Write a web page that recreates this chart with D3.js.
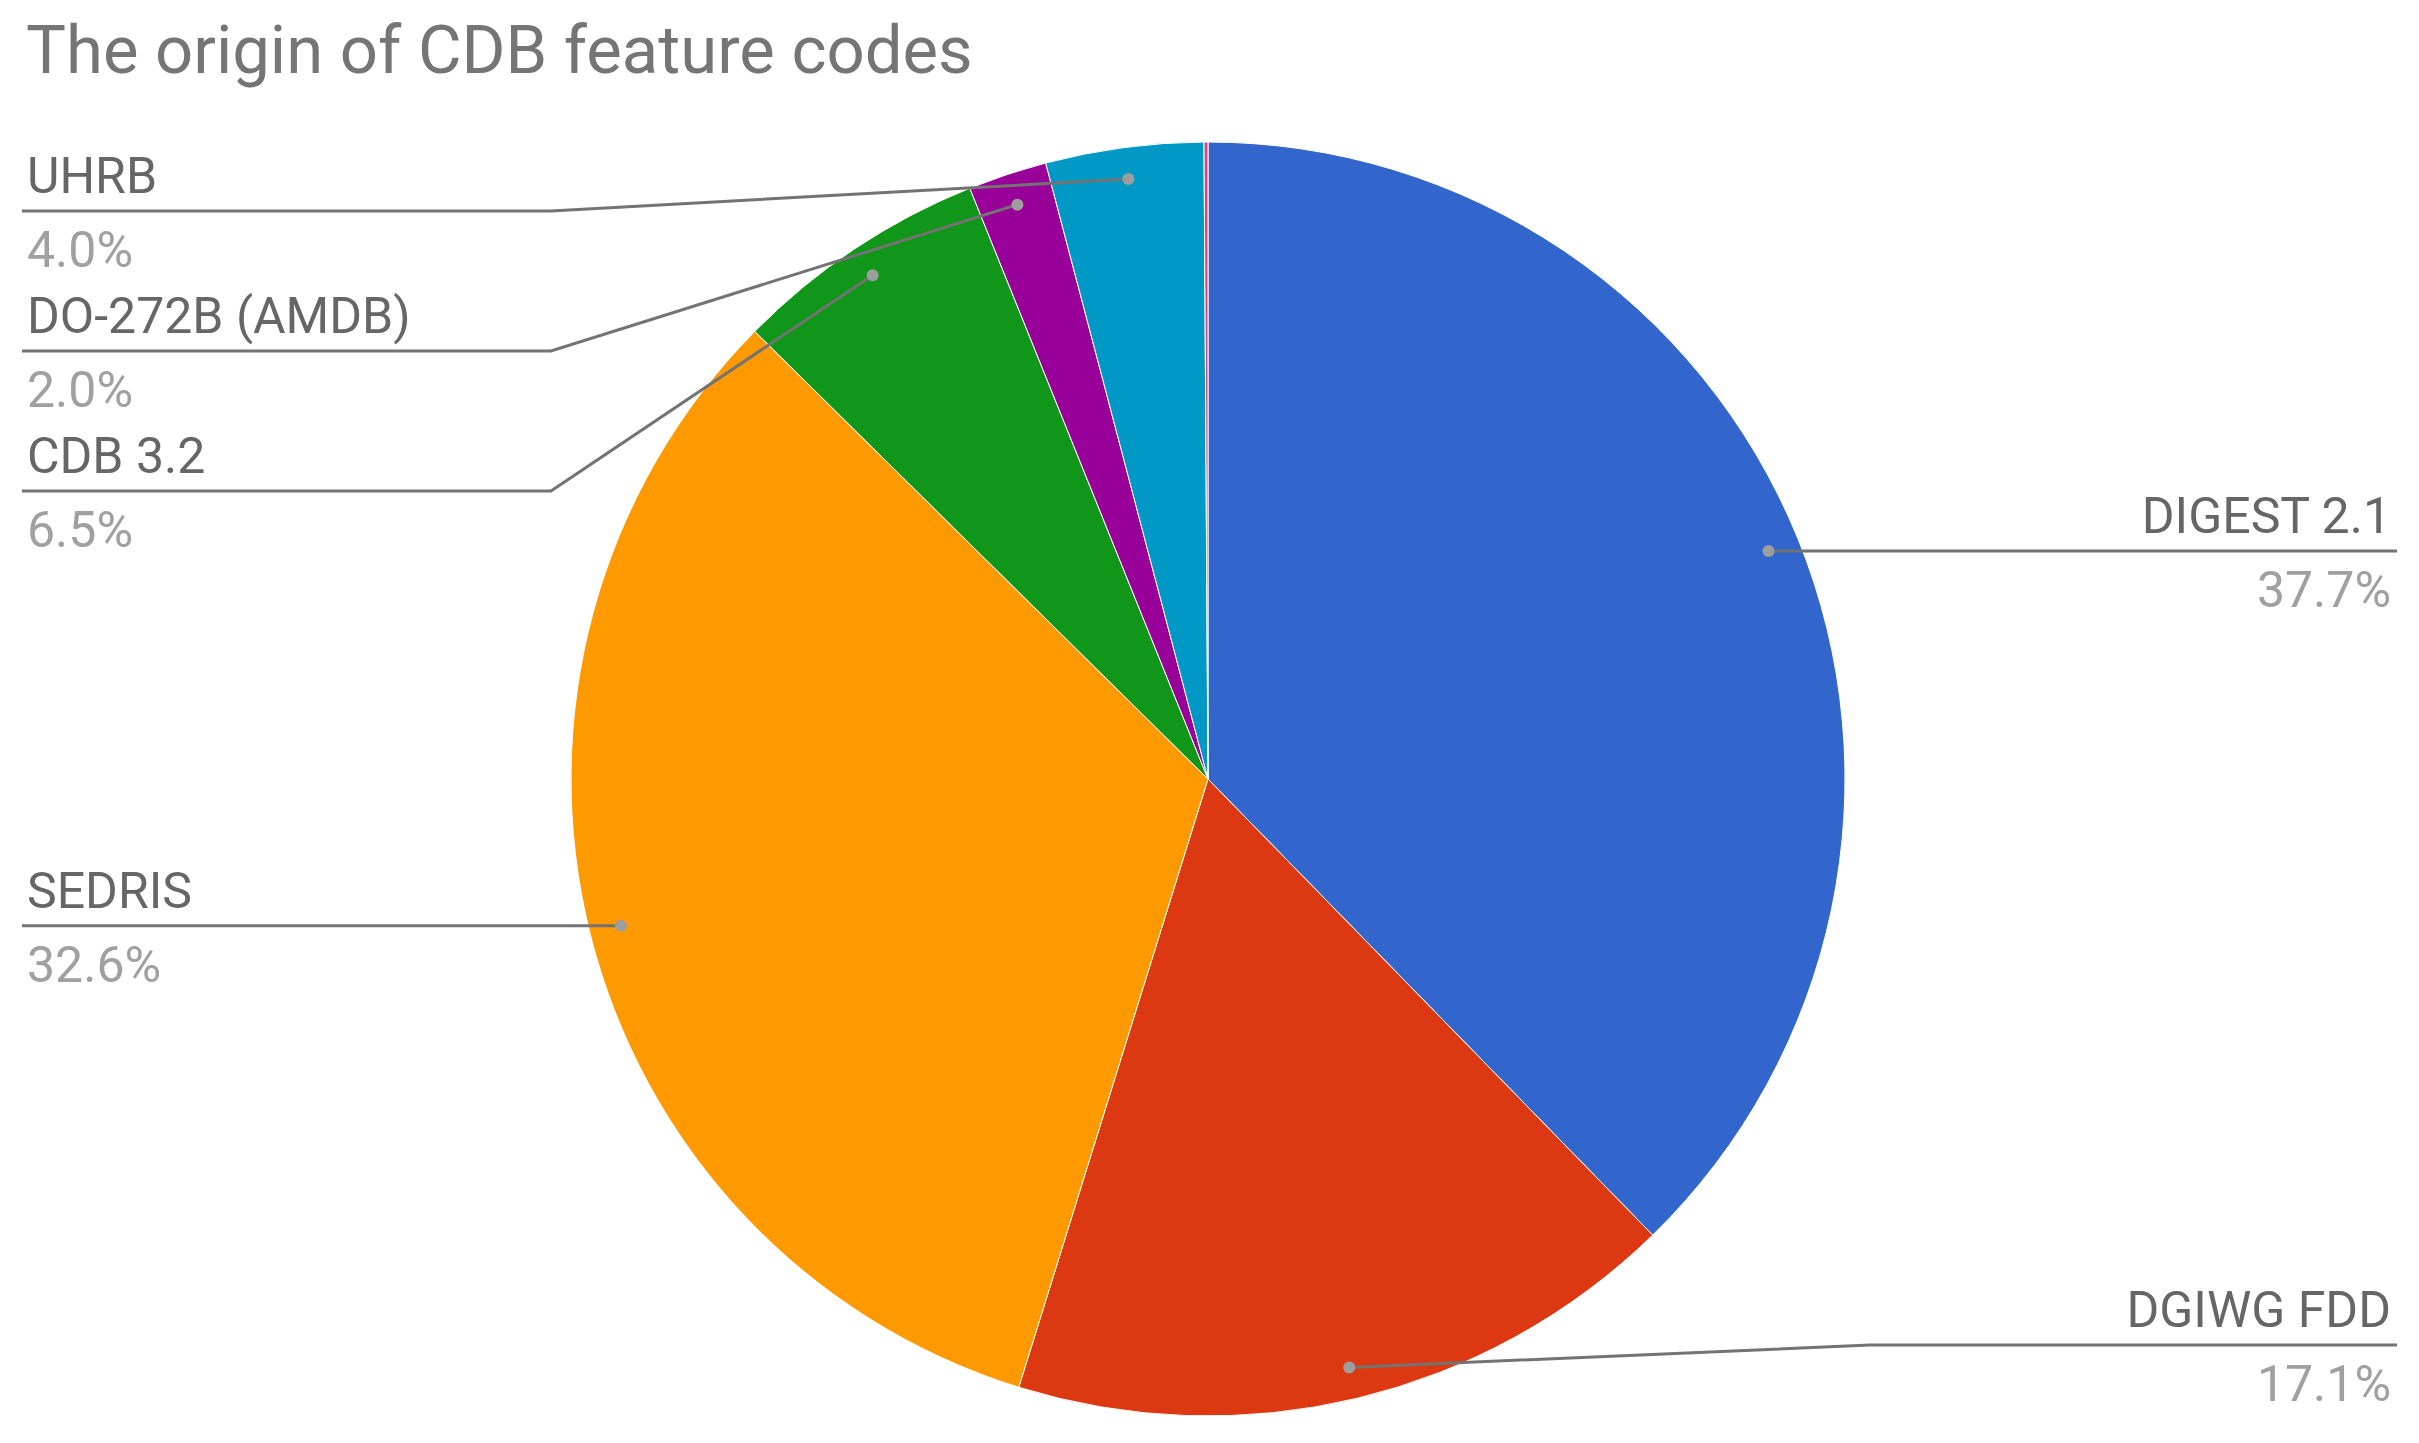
<!DOCTYPE html>
<html>
<head>
<meta charset="utf-8">
<script src="https://cdn.jsdelivr.net/npm/d3@7"></script>
<style>
  body { margin: 0; background: #fff; }
  text { font-family: Roboto, "Noto Sans", sans-serif; }
</style>
</head>
<body>
<svg id="chart" width="2419" height="1443"></svg>
<script>
// pie data, clockwise from 12 o'clock
var categories = ["DIGEST 2.1", "DGIWG FDD", "SEDRIS", "CDB 3.2", "DO-272B (AMDB)", "UHRB", "Other"];
var values     = [37.7, 17.1, 32.6, 6.5, 2.0, 4.0, 0.1];
var colors     = ["#3366cc", "#dc3912", "#ff9900", "#109618", "#990099", "#0099c6", "#dd4477"];
var chartTitle = "The origin of CDB feature codes";

var svg    = d3.select("#chart"),
    width  = +svg.attr("width"),
    height = +svg.attr("height");

var cx = 1208, cy = 779, radius = 637;

svg.append("rect").attr("width", width).attr("height", height).attr("fill", "#fff");

svg.append("text")
    .attr("x", 26)
    .attr("y", 73)
    .attr("font-size", 67)
    .attr("fill", "#757575")
    .text(chartTitle);

var rows = categories.map(function(c, i) { return {name: c, value: values[i], color: colors[i]}; });
var total = d3.sum(values);
var pct = d3.format(".1%");

var pie = d3.pie().sort(null).value(function(d) { return d.value; });
var arc = d3.arc().innerRadius(0).outerRadius(radius);
var arcs = pie(rows);

var g = svg.append("g").attr("transform", "translate(" + cx + "," + cy + ")");

g.selectAll("path.slice")
    .data(arcs)
    .enter()
    .append("path")
    .attr("class", "slice")
    .attr("d", arc)
    .attr("fill", function(d) { return d.data.color; })
    .attr("stroke", "#fff")
    .attr("stroke-width", 1);

// leader label placement
var labels = [];
arcs.forEach(function(a) {
    if (a.data.value / total < 0.005) return;
    var ang = (a.startAngle + a.endAngle) / 2;
    var px = cx + Math.sin(ang) * radius * 0.95,
        py = cy - Math.cos(ang) * radius * 0.95;
    labels.push({d: a.data, px: px, py: py, side: px < cx ? "left" : "right", y: py});
});

var gap = 140, topY = 211, botY = 1345;
["left", "right"].forEach(function(side) {
    var list = labels.filter(function(l) { return l.side == side; })
                     .sort(function(a, b) { return a.py - b.py; });
    var prev = topY - gap;
    for (var kk = 0; kk < list.length; kk++) {
        list[kk].y = Math.max(list[kk].py, prev + gap);
        prev = list[kk].y;
    }
    var next = botY + gap;
    for (var kk = list.length - 1; kk >= 0; kk--) {
        list[kk].y = Math.min(list[kk].y, next - gap);
        next = list[kk].y;
    }
});

var lg = svg.append("g");

labels.forEach(function(l) {
    var left   = l.side == "left";
    var elbowX = left ? cx - radius - 20 : cx + radius + 25;
    var endX   = left ? 22 : 2397;
    var textX  = left ? 27 : 2391;
    var anchor = left ? "start" : "end";

    lg.append("path")
        .attr("d", "M" + l.px + "," + l.py + "L" + elbowX + "," + l.y + "L" + endX + "," + l.y)
        .attr("fill", "none")
        .attr("stroke", "#737373")
        .attr("stroke-width", 3);

    lg.append("circle")
        .attr("cx", l.px)
        .attr("cy", l.py)
        .attr("r", 6)
        .attr("fill", "#9e9e9e");

    lg.append("text")
        .attr("x", textX)
        .attr("y", l.y - 18)
        .attr("text-anchor", anchor)
        .attr("font-size", 50)
        .attr("fill", "#666666")
        .text(l.d.name);

    lg.append("text")
        .attr("x", textX)
        .attr("y", l.y + 56)
        .attr("text-anchor", anchor)
        .attr("font-size", 50)
        .attr("fill", "#a0a0a0")
        .text(pct(l.d.value / total));
});
</script>
</body>
</html>
